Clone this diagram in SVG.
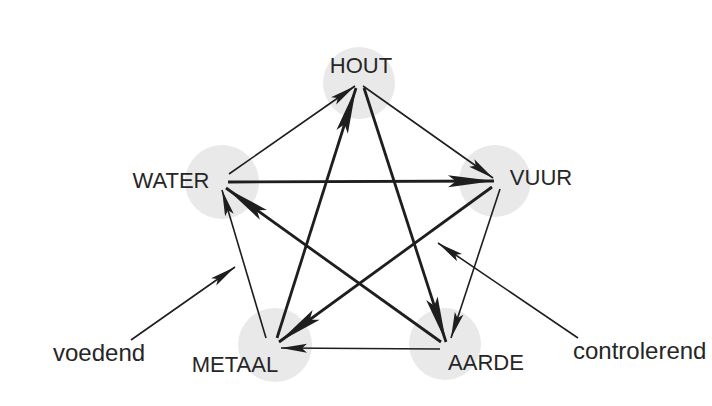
<svg xmlns="http://www.w3.org/2000/svg" width="712" height="406" viewBox="0 0 712 406">
  <style>
    .bg { fill: #ffffff; }
    .disc { fill: #e9e9e9; }
    .lbl { font-family: "Liberation Sans", Arial, sans-serif; font-size: 22px; fill: #262626; text-anchor: middle; }
    .note { font-family: "Liberation Sans", Arial, sans-serif; font-size: 24px; fill: #262626; }
    .thin { stroke: #1e1e1e; stroke-width: 1.6; fill: none; marker-end: url(#headThin); }
    .thick { stroke: #1e1e1e; stroke-width: 2.8; fill: none; marker-end: url(#headThick); }
  </style>
  <defs>
    <marker id="headThin" viewBox="-28 -6 30 12" refX="0" refY="0" markerWidth="30" markerHeight="12" markerUnits="userSpaceOnUse" orient="auto">
      <path d="M0,0 L-26,-4.5 L-21,0 L-26,4.5 Z" fill="#1e1e1e"/>
    </marker>
    <marker id="headThick" viewBox="-50 -8 52 16" refX="0" refY="0" markerWidth="52" markerHeight="16" markerUnits="userSpaceOnUse" orient="auto">
      <path d="M0,0 L-46,-6 L-38,0 L-46,6 Z" fill="#1e1e1e"/>
    </marker>
  </defs>
  <rect class="bg" x="0" y="0" width="712" height="406"/>

  <g id="node-hout">
    <circle class="disc" cx="359" cy="83" r="36"/>
    <text class="lbl" x="361" y="73">HOUT</text>
  </g>
  <g id="node-water">
    <circle class="disc" cx="222" cy="182" r="37"/>
    <text class="lbl" x="171" y="188">WATER</text>
  </g>
  <g id="node-vuur">
    <circle class="disc" cx="495" cy="181" r="36"/>
    <text class="lbl" x="541" y="185">VUUR</text>
  </g>
  <g id="node-metaal">
    <circle class="disc" cx="275" cy="345" r="37"/>
    <text class="lbl" x="235" y="372">METAAL</text>
  </g>
  <g id="node-aarde">
    <circle class="disc" cx="445" cy="344" r="36"/>
    <text class="lbl" x="486" y="370">AARDE</text>
  </g>

  <g id="connectors">
    <line class="thin" x1="229" y1="174" x2="355" y2="86"/>
    <line class="thin" x1="363" y1="86" x2="493" y2="178"/>
    <line class="thin" x1="500" y1="189" x2="451" y2="338"/>
    <line class="thin" x1="440" y1="349" x2="281" y2="348"/>
    <line class="thin" x1="266" y1="338" x2="222" y2="190"/>

    <line class="thick" x1="228" y1="182" x2="494" y2="181"/>
    <line class="thick" x1="492" y1="187" x2="279" y2="342"/>
    <line class="thick" x1="277" y1="338" x2="356" y2="88"/>
    <line class="thick" x1="364" y1="88" x2="446" y2="342"/>
    <line class="thick" x1="441" y1="342" x2="226" y2="188"/>

    <line class="thin" x1="131" y1="340" x2="235" y2="267"/>
    <line class="thin" x1="578" y1="338" x2="438" y2="243"/>
  </g>

  <g id="legend">
    <text class="note" x="53" y="361">voedend</text>
    <text class="note" x="573" y="359">controlerend</text>
  </g>
</svg>
